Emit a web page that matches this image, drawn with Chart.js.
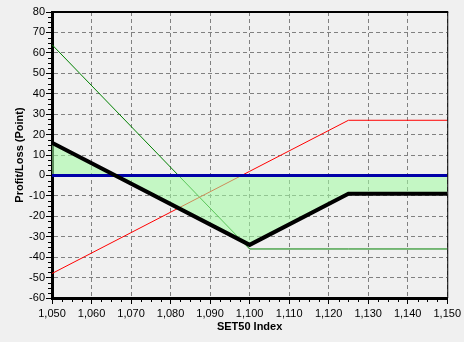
<!DOCTYPE html>
<html>
<head>
<meta charset="utf-8">
<script src="https://cdn.jsdelivr.net/npm/chart.js@4.4.1/dist/chart.umd.min.js"></script>
<style>
  html, body { margin: 0; padding: 0; background: #f0f0f0; }
  #chartPayoff { display: block; }
</style>
</head>
<body>
<canvas id="chartPayoff" width="464" height="342"></canvas>
<script>
// ─── Données ───────────
const indexLevels = [1050, 1100, 1125, 1150];
const putLeg      = [64, -36, -36, -36];
const callLeg     = [-48, 2, 27, 27];
const netPayoff   = [16, -34, -9, -9];
const zeroLine    = [0, 0, 0, 0];

const xMin = 1050, xMax = 1150;
const yMin = -60,  yMax = 80;
const majorStep = 10, minorStep = 2.5;

const FONT = 'Liberation Sans, Arial, sans-serif';

const points = (values) => indexLevels.map((x, i) => ({ x, y: values[i] }));

// cadre haut / droite + petites graduations
const cadre = {
  id: 'cadre',
  afterDraw: (chart) => {
    const { ctx, chartArea: a, scales } = chart;
    ctx.save();
    ctx.strokeStyle = '#000';
    ctx.lineWidth = 2;
    ctx.beginPath();
    ctx.moveTo(a.left, a.top);
    ctx.lineTo(a.right + 1, a.top);
    ctx.stroke();
    ctx.lineWidth = 1;
    ctx.beginPath();
    ctx.moveTo(a.right + 0.5, a.top);
    ctx.lineTo(a.right + 0.5, a.bottom);
    ctx.stroke();

    // minor ticks
    ctx.beginPath();
    for (let v = xMin; v <= xMax; v += minorStep) {
      if (v % majorStep === 0) continue;
      const px = Math.round(scales.x.getPixelForValue(v)) + 0.5;
      ctx.moveTo(px, a.bottom);
      ctx.lineTo(px, a.bottom + 4);
    }
    for (let v = yMin; v <= yMax; v += minorStep) {
      if (v % majorStep === 0) continue;
      const py = Math.round(scales.y.getPixelForValue(v)) + 0.5;
      ctx.moveTo(a.left - 4, py);
      ctx.lineTo(a.left, py);
    }
    ctx.stroke();
    ctx.restore();
  }
};

const axisCommon = {
  type: 'linear',
  ticks: {
    stepSize: majorStep,
    autoSkip: false,
    maxRotation: 0,
    color: '#000',
    font: { family: FONT, size: 11 },
    callback: (v) => v.toLocaleString('en-US')
  },
  grid: {
    color: '#808080',
    tickColor: '#000',
    tickLength: 6
  },
  border: { color: '#000', width: 3, dash: [4, 3] }
};

new Chart(document.getElementById('chartPayoff'), {
  type: 'line',
  data: {
    datasets: [
      { label: 'Long Put', data: points(putLeg), borderColor: '#008000', borderWidth: 1, pointRadius: 0, fill: false, order: 5 },
      { label: 'Short Call', data: points(callLeg), borderColor: '#ff0000', borderWidth: 1, pointRadius: 0, fill: false, order: 4 },
      { label: 'Zone', data: points(netPayoff), borderColor: 'rgba(0,0,0,0)', borderWidth: 0, pointRadius: 0,
        fill: 'origin', backgroundColor: 'rgba(160,253,160,0.55)', order: 3 },
      { label: 'Zero', data: points(zeroLine), borderColor: '#0000a8', borderWidth: 3, pointRadius: 0, fill: false, order: 2 },
      { label: 'Net', data: points(netPayoff), borderColor: '#000', borderWidth: 4, pointRadius: 0, fill: false, order: 1 }
    ]
  },
  options: {
    responsive: false,
    animation: false,
    devicePixelRatio: 1,
    layout: { padding: { left: 0, top: 12, right: 16, bottom: 0 } },
    plugins: { legend: { display: false }, tooltip: { enabled: false } },
    scales: {
      x: {
        ...axisCommon,
        min: xMin, max: xMax,
        ticks: { ...axisCommon.ticks, padding: 3 },
        afterFit: (s) => { s.height = 44; },
        title: { display: true, text: 'SET50 Index', color: '#000', font: { family: FONT, size: 11, weight: 'bold' }, padding: { top: 0, bottom: 8 } }
      },
      y: {
        ...axisCommon,
        min: yMin, max: yMax,
        ticks: { ...axisCommon.ticks, padding: 1 },
        afterFit: (s) => { s.width = 52; },
        title: { display: true, text: 'Profit/Loss (Point)', color: '#000', font: { family: FONT, size: 11, weight: 'bold' }, padding: { top: 13, bottom: 0 } }
      }
    }
  },
  plugins: [cadre]
});
</script>
</body>
</html>
